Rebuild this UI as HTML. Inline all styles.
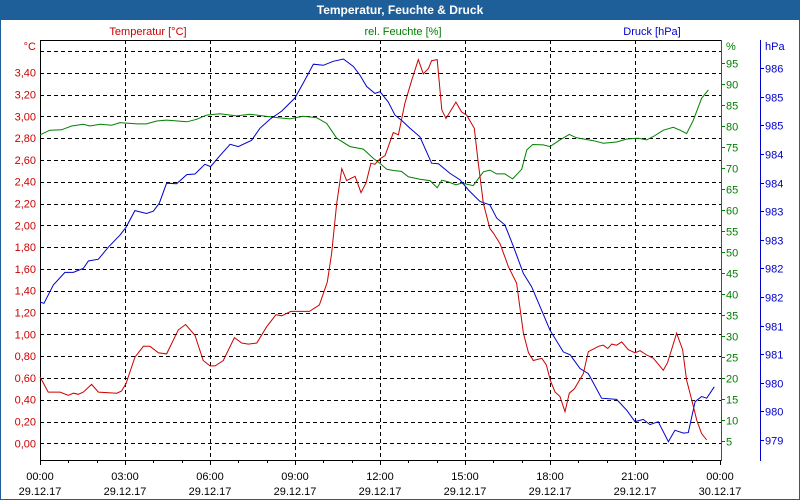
<!DOCTYPE html>
<html><head><meta charset="utf-8"><style>
html,body{margin:0;padding:0;background:#fff}
svg{display:block;font-family:"Liberation Sans",sans-serif}
</style></head><body>
<svg id="c" width="800" height="500" viewBox="0 0 800 500" xmlns="http://www.w3.org/2000/svg">
<rect x="0.5" y="0.5" width="799" height="499" fill="#fff" stroke="#1f5f99"/>
<rect x="0" y="0" width="800" height="20" fill="#1f5f99"/>
<text x="400" y="14" text-anchor="middle" font-size="12" font-weight="bold" fill="#fff">Temperatur, Feuchte &amp; Druck</text>
<text x="148" y="35" text-anchor="middle" font-size="11" fill="#cc0000">Temperatur [°C]</text>
<text x="403" y="35" text-anchor="middle" font-size="11" fill="#008000">rel. Feuchte [%]</text>
<text x="652" y="35" text-anchor="middle" font-size="11" fill="#0000cc">Druck [hPa]</text>
<g id="grid"></g><g id="axes"></g><g id="series"></g>
</svg>
<script>
const tempTicks=[0,0.2,0.4,0.6,0.8,1.0,1.2,1.4,1.6,1.8,2.0,2.2,2.4,2.6,2.8,3.0,3.2,3.4];
const humTicks=[5,10,15,20,25,30,35,40,45,50,55,60,65,70,75,80,85,90,95];
const presTicks=[979,979.5,980,980.5,981,981.5,982,982.5,983,983.5,984,984.5,985,985.5];
const timeLabels=["00:00","03:00","06:00","09:00","12:00","15:00","18:00","21:00","00:00"];
const dateLabels=["29.12.17","29.12.17","29.12.17","29.12.17","29.12.17","29.12.17","29.12.17","29.12.17","30.12.17"];
const tempHours=[0,0.29,0.71,1.0,1.18,1.35,1.53,1.82,2.06,2.71,2.88,3.04,3.35,3.65,3.88,4.18,4.47,4.88,5.14,5.47,5.76,6.0,6.18,6.47,6.86,7.12,7.35,7.65,8.0,8.33,8.53,8.85,9.51,9.86,10.14,10.29,10.47,10.65,10.82,11.12,11.33,11.51,11.68,11.82,12.0,12.18,12.47,12.65,12.88,13.12,13.35,13.53,13.71,13.82,14.02,14.18,14.33,14.68,14.88,15.06,15.33,15.47,15.65,15.88,16.0,16.24,16.53,16.82,17.06,17.24,17.41,17.71,17.87,18.02,18.18,18.35,18.53,18.68,18.86,19.18,19.35,19.71,19.88,20.04,20.18,20.35,20.53,20.76,21.0,21.18,21.41,21.65,22.0,22.15,22.47,22.68,22.82,23.0,23.18,23.35,23.53];
const tempValues=[0.61,0.47,0.47,0.44,0.46,0.45,0.47,0.54,0.47,0.46,0.48,0.55,0.79,0.89,0.89,0.83,0.82,1.04,1.09,0.99,0.76,0.71,0.71,0.76,0.97,0.92,0.91,0.92,1.07,1.18,1.17,1.21,1.21,1.27,1.48,1.74,2.20,2.52,2.41,2.45,2.30,2.39,2.57,2.56,2.61,2.64,2.85,2.83,3.12,3.33,3.52,3.39,3.44,3.51,3.52,3.06,2.98,3.13,3.04,3.01,2.89,2.57,2.20,1.97,1.93,1.83,1.62,1.47,1.01,0.83,0.76,0.78,0.72,0.57,0.47,0.43,0.29,0.46,0.50,0.64,0.84,0.89,0.90,0.87,0.91,0.90,0.93,0.86,0.83,0.85,0.81,0.78,0.67,0.74,1.01,0.86,0.58,0.40,0.21,0.09,0.03];
const humHours=[0,0.35,0.76,1.12,1.53,1.76,2.12,2.53,2.82,3.41,3.76,4.12,4.47,5.18,5.53,5.88,6.35,6.94,7.41,8.24,8.82,9.29,9.76,10.12,10.47,10.94,11.41,11.76,12.0,12.24,12.47,12.76,13.0,13.41,13.76,14.02,14.18,14.41,14.68,14.88,15.29,15.65,15.88,16.12,16.41,16.68,17.0,17.18,17.39,17.76,18.0,18.35,18.68,18.94,19.53,19.88,20.35,20.71,21.12,21.41,21.65,22.0,22.35,22.59,22.82,23.06,23.35,23.59];
const humValues=[77.9,79.0,79.1,80.0,80.4,80.0,80.4,80.2,80.8,80.5,80.5,81.2,81.4,81.0,81.6,82.6,82.9,82.4,82.8,82.1,81.7,82.3,82.0,80.6,77.1,75.1,74.5,72.3,71.1,69.7,69.4,69.2,67.9,67.3,67.0,65.3,67.1,66.7,66.0,66.4,65.8,69.1,69.5,68.6,68.6,67.4,69.7,74.3,75.6,75.5,75.1,76.7,78.0,77.2,76.5,75.9,76.2,76.9,77.1,76.7,77.5,79.0,79.7,79.0,78.2,81.4,86.6,88.6,89.9];
const presHours=[0,0.14,0.47,0.88,1.18,1.53,1.71,2.06,2.41,2.82,3.04,3.35,3.76,4.0,4.21,4.47,4.82,5.18,5.47,5.82,6.02,6.35,6.71,7.0,7.47,7.76,8.12,8.53,9.0,9.29,9.65,10.0,10.35,10.71,11.06,11.29,11.53,11.82,12.0,12.29,12.53,12.76,13.06,13.41,13.82,14.06,14.47,14.82,15.12,15.53,15.88,16.12,16.41,16.71,17.06,17.35,17.65,18.0,18.47,18.71,19.06,19.35,19.82,20.35,20.71,21.0,21.29,21.53,21.82,22.18,22.41,22.71,22.88,23.12,23.35,23.53,23.8];
const presValues=[981.41,981.39,981.71,981.93,981.93,982.0,982.13,982.16,982.37,982.58,982.72,983.01,982.96,983.0,983.14,983.49,983.48,983.64,983.65,983.82,983.78,983.97,984.17,984.13,984.24,984.45,984.61,984.75,984.98,985.24,985.57,985.55,985.62,985.66,985.53,985.38,985.18,985.06,985.09,984.91,984.68,984.59,984.45,984.30,983.84,983.83,983.66,983.55,983.37,983.17,983.11,982.88,982.76,982.38,981.91,981.68,981.33,980.92,980.54,980.49,980.25,980.16,979.73,979.71,979.52,979.32,979.36,979.27,979.32,978.97,979.17,979.12,979.13,979.67,979.76,979.73,979.93];

const NS="http://www.w3.org/2000/svg";
const X0=40,X1=720;
const xS=h=>X0+h*(X1-X0)/24;
const yT=v=>443.3-v*109;
const yH=v=>462-v*4.2;
const yP=v=>440-(v-979)*57.2;
function mk(tag,attrs,parent,txt){const e=document.createElementNS(NS,tag);for(const k in attrs)e.setAttribute(k,attrs[k]);if(txt!==undefined)e.textContent=txt;parent.appendChild(e);return e;}
const grid=document.getElementById('grid'),axes=document.getElementById('axes'),ser=document.getElementById('series');
const fmt=v=>v.toFixed(2).replace('.',',');
// horizontal grid (temp ticks + top 3.6)
[...tempTicks,3.6].forEach(v=>{
  const l=mk('line',{x1:X0,x2:721,y1:Math.round(yT(v))+0.5,y2:Math.round(yT(v))+0.5,stroke:'#000','stroke-dasharray':'4,3'},grid);
  
  
});
for(let i=1;i<8;i++){
  const x=Math.round(xS(i*3))+0.5;
  const l=mk('line',{x1:x,x2:x,y1:40,y2:460,stroke:'#000','stroke-dasharray':'4,3'},grid);
  
  
}
// axis lines
let a=mk('line',{x1:40.5,x2:40.5,y1:40,y2:461,stroke:'#000'},axes);


a=mk('line',{x1:40,x2:721,y1:40.5,y2:40.5,stroke:'#000'},axes);


a=mk('line',{x1:40,x2:721,y1:460.5,y2:460.5,stroke:'#000'},axes);


a=mk('line',{x1:721.5,x2:721.5,y1:40,y2:461,stroke:'#008000'},axes);


a=mk('line',{x1:760.5,x2:760.5,y1:40,y2:461,stroke:'#0000cc'},axes);


// temp labels
tempTicks.forEach(v=>{
  const t=mk('text',{x:36,y:yT(v)+4,'text-anchor':'end','font-size':11,fill:'#cc0000'},axes,fmt(v));
  
  
});
let u=mk('text',{x:36,y:50,'text-anchor':'end','font-size':11,fill:'#cc0000'},axes,'°C');


humTicks.forEach(v=>{
  const y=Math.round(yH(v))+0.5;
  const tk=mk('line',{x1:721,x2:725,y1:y,y2:y,stroke:'#008000'},axes);
  
  
  const t=mk('text',{x:726,y:y+4,'font-size':11,fill:'#008000'},axes,String(v));
  
  
});
u=mk('text',{x:726,y:50,'font-size':11,fill:'#008000'},axes,'%');


presTicks.forEach(v=>{
  const y=Math.round(yP(v))+0.5;
  const tk=mk('line',{x1:760,x2:764,y1:y,y2:y,stroke:'#0000cc'},axes);
  
  
  const t=mk('text',{x:765,y:y+4,'font-size':11,fill:'#0000cc'},axes,String(Math.round(v+0.001)));
  
  
});
u=mk('text',{x:765,y:50,'font-size':11,fill:'#0000cc'},axes,'hPa');


for(let h=0;h<=24;h++){
  const x=Math.round(xS(h))+0.5;
  const tk=mk('line',{x1:x,x2:x,y1:460,y2:h%3===0?465:463,stroke:'#000'},axes);
  
  
}
timeLabels.forEach((s,i)=>{
  const x=xS(i*3);
  const t=mk('text',{x:x,y:480,'text-anchor':'middle','font-size':11,fill:'#000'},axes,s);
  
  
  const d=mk('text',{x:x,y:495,'text-anchor':'middle','font-size':11,fill:'#000'},axes,dateLabels[i]);
  
  
});
function line(hours,vals,yf,color,name){
  const pts=hours.map((h,i)=>xS(h).toFixed(1)+','+yf(vals[i]).toFixed(1)).join(' ');
  const p=mk('polyline',{points:pts,fill:'none',stroke:color,'stroke-width':1},ser);
  
  
}
line(humHours,humValues,yH,'#008000','humidity-line');
line(presHours,presValues,yP,'#0000cc','pressure-line');
line(tempHours,tempValues,yT,'#cc0000','temperature-line');
</script>
</body></html>
